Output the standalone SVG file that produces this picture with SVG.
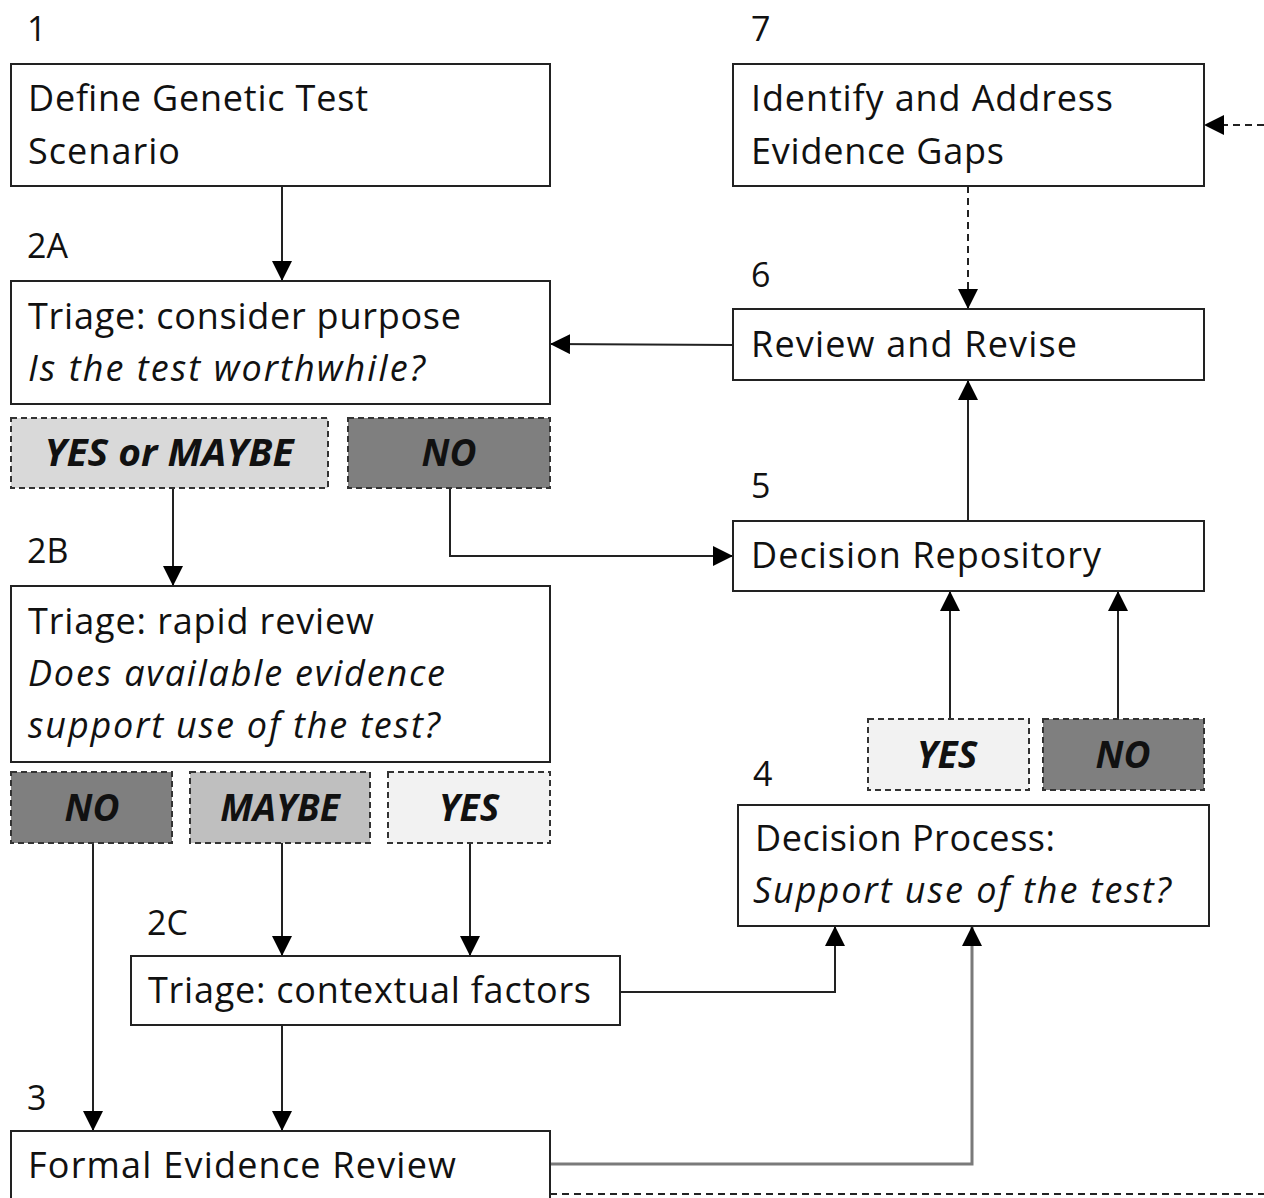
<svg xmlns="http://www.w3.org/2000/svg" width="1264" height="1198" viewBox="0 0 1264 1198">
  <style>
    .box { fill: #ffffff; stroke: #222222; stroke-width: 2; }
    .opt { stroke: #333333; stroke-width: 2; stroke-dasharray: 6 4; }
    .light { fill: #f2f2f2; }
    .mid { fill: #bfbfbf; }
    .pale { fill: #d9d9d9; }
    .dark { fill: #7f7f7f; }
    .txt { font-family: "Open Sans", "Liberation Sans", sans-serif; font-size: 36px; fill: #111111; }
    .it { font-style: italic; }
    .opttxt { font-family: "Open Sans", "Liberation Sans", sans-serif; font-size: 37px; font-weight: bold; font-style: italic; fill: #111111; text-anchor: middle; }
    .num { font-family: "Open Sans", "Liberation Sans", sans-serif; font-size: 34px; fill: #111111; }
    .link { fill: none; stroke: #222222; stroke-width: 2; }
    .grey { stroke: #7a7a7a; stroke-width: 3; }
    .dash { stroke-dasharray: 7 5; }
  </style>
  <defs>
    <marker id="arrow" markerUnits="userSpaceOnUse" markerWidth="22" markerHeight="20" refX="20" refY="10" orient="auto">
      <path d="M0,0 L20,10 L0,20 Z" fill="#000000"/>
    </marker>
  </defs>

  <rect width="1264" height="1198" fill="#ffffff"/>

  <!-- connectors -->
  <g id="connectors">
    <line class="link" x1="282" y1="186" x2="282" y2="281" marker-end="url(#arrow)"/>
    <line class="link dash" x1="968" y1="186" x2="968" y2="309" marker-end="url(#arrow)"/>
    <line class="link dash" x1="1264" y1="125" x2="1204" y2="125" marker-end="url(#arrow)"/>
    <line class="link" x1="733" y1="345" x2="550" y2="344" marker-end="url(#arrow)"/>
    <line class="link" x1="968" y1="521" x2="968" y2="380" marker-end="url(#arrow)"/>
    <polyline class="link" points="450,488 450,556 733,556" marker-end="url(#arrow)"/>
    <line class="link" x1="173" y1="488" x2="173" y2="586" marker-end="url(#arrow)"/>
    <line class="link" x1="950" y1="719" x2="950" y2="591" marker-end="url(#arrow)"/>
    <line class="link" x1="1118" y1="719" x2="1118" y2="591" marker-end="url(#arrow)"/>
    <line class="link" x1="282" y1="843" x2="282" y2="956" marker-end="url(#arrow)"/>
    <line class="link" x1="470" y1="843" x2="470" y2="956" marker-end="url(#arrow)"/>
    <polyline class="link" points="620,992 835,992 835,926" marker-end="url(#arrow)"/>
    <line class="link" x1="282" y1="1025" x2="282" y2="1131" marker-end="url(#arrow)"/>
    <line class="link" x1="93" y1="843" x2="93" y2="1131" marker-end="url(#arrow)"/>
    <polyline class="link grey" points="550,1164 972,1164 972,926" marker-end="url(#arrow)"/>
    <line class="link dash" x1="550" y1="1194" x2="1264" y2="1194"/>
  </g>

  <!-- step 1 -->
  <g id="step1">
    <text class="num" x="27" y="41">1</text>
    <rect class="box" x="11" y="64" width="539" height="122"/>
    <text class="txt" x="28" y="111" textLength="340" lengthAdjust="spacing">Define Genetic Test</text>
    <text class="txt" x="28" y="164" textLength="152" lengthAdjust="spacing">Scenario</text>
  </g>

  <!-- step 7 -->
  <g id="step7">
    <text class="num" x="751" y="41">7</text>
    <rect class="box" x="733" y="64" width="471" height="122"/>
    <text class="txt" x="751" y="111" textLength="362" lengthAdjust="spacing">Identify and Address</text>
    <text class="txt" x="751" y="164" textLength="253" lengthAdjust="spacing">Evidence Gaps</text>
  </g>

  <!-- step 2A -->
  <g id="step2A">
    <text class="num" x="27" y="258">2A</text>
    <rect class="box" x="11" y="281" width="539" height="123"/>
    <text class="txt" x="28" y="329" textLength="433" lengthAdjust="spacing">Triage: consider purpose</text>
    <text class="txt it" x="28" y="381" textLength="397" lengthAdjust="spacing">Is the test worthwhile?</text>
  </g>

  <!-- step 6 -->
  <g id="step6">
    <text class="num" x="751" y="287">6</text>
    <rect class="box" x="733" y="309" width="471" height="71"/>
    <text class="txt" x="751" y="357" textLength="326" lengthAdjust="spacing">Review and Revise</text>
  </g>

  <!-- 2A outcomes -->
  <g id="opt2A-yes">
    <rect class="opt pale" x="11" y="418" width="317" height="70"/>
    <text class="opttxt" x="169" y="466" textLength="249" lengthAdjust="spacingAndGlyphs">YES or MAYBE</text>
  </g>
  <g id="opt2A-no">
    <rect class="opt dark" x="348" y="418" width="202" height="70"/>
    <text class="opttxt" x="449" y="466">NO</text>
  </g>

  <!-- step 5 -->
  <g id="step5">
    <text class="num" x="751" y="498">5</text>
    <rect class="box" x="733" y="521" width="471" height="70"/>
    <text class="txt" x="751" y="568" textLength="350" lengthAdjust="spacing">Decision Repository</text>
  </g>

  <!-- step 2B -->
  <g id="step2B">
    <text class="num" x="27" y="563">2B</text>
    <rect class="box" x="11" y="586" width="539" height="176"/>
    <text class="txt" x="28" y="634" textLength="346" lengthAdjust="spacing">Triage: rapid review</text>
    <text class="txt it" x="28" y="686" textLength="417" lengthAdjust="spacing">Does available evidence</text>
    <text class="txt it" x="28" y="738" textLength="412" lengthAdjust="spacing">support use of the test?</text>
  </g>

  <!-- 2B outcomes -->
  <g id="opt2B-no">
    <rect class="opt dark" x="11" y="772" width="161" height="71"/>
    <text class="opttxt" x="92" y="821">NO</text>
  </g>
  <g id="opt2B-maybe">
    <rect class="opt mid" x="190" y="772" width="180" height="71"/>
    <text class="opttxt" x="280" y="821">MAYBE</text>
  </g>
  <g id="opt2B-yes">
    <rect class="opt light" x="388" y="772" width="162" height="71"/>
    <text class="opttxt" x="469" y="821">YES</text>
  </g>

  <!-- step 4 outcomes -->
  <g id="opt4-yes">
    <rect class="opt light" x="868" y="719" width="161" height="71"/>
    <text class="opttxt" x="947" y="768">YES</text>
  </g>
  <g id="opt4-no">
    <rect class="opt dark" x="1043" y="719" width="161" height="71"/>
    <text class="opttxt" x="1123" y="768">NO</text>
  </g>

  <!-- step 4 -->
  <g id="step4">
    <text class="num" x="753" y="786">4</text>
    <rect class="box" x="738" y="805" width="471" height="121"/>
    <text class="txt" x="755" y="851" textLength="300" lengthAdjust="spacing">Decision Process:</text>
    <text class="txt it" x="753" y="903" textLength="418" lengthAdjust="spacing">Support use of the test?</text>
  </g>

  <!-- step 2C -->
  <g id="step2C">
    <text class="num" x="147" y="935">2C</text>
    <rect class="box" x="131" y="956" width="489" height="69"/>
    <text class="txt" x="148" y="1003" textLength="443" lengthAdjust="spacing">Triage: contextual factors</text>
  </g>

  <!-- step 3 -->
  <g id="step3">
    <text class="num" x="27" y="1110">3</text>
    <rect class="box" x="11" y="1131" width="539" height="80"/>
    <text class="txt" x="28" y="1178" textLength="428" lengthAdjust="spacing">Formal Evidence Review</text>
  </g>
</svg>
